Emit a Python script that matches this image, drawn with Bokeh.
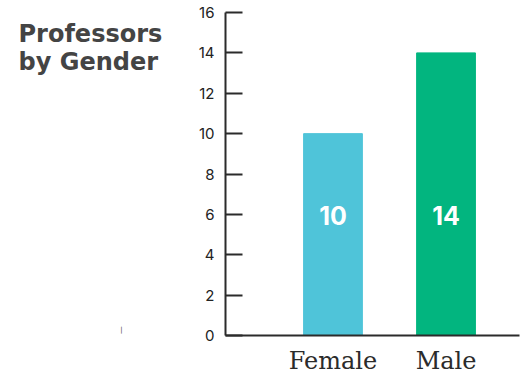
from bokeh.plotting import figure
from bokeh.layouts import row
from bokeh.models import Range1d, FixedTicker, ColumnDataSource
from bokeh.core.properties import value
from bokeh.embed import file_html
from bokeh.resources import INLINE

categories = ["Female", "Male"]
counts = [10, 14]
colors = ["#4fc4d9", "#02b57f"]
y_ticks = [0, 2, 4, 6, 8, 10, 12, 14, 16]
title_lines = ["Professors", "by Gender"]

# ---- left panel: title (its frame is aligned with the chart frame, 12..335 px) ----
LW = 190
t = figure(width=LW, height=377, output_backend="svg", toolbar_location=None,
           x_range=Range1d(0, LW), y_range=Range1d(335, 12),
           x_axis_location=None, y_axis_location=None,
           min_border=0)
t.grid.visible = False
t.outline_line_color = None
t.text(x=[18] * len(title_lines), y=[19 + 28 * i for i in range(len(title_lines))],
       text=title_lines, text_font=value("DejaVu Sans"), text_font_style="bold",
       text_font_size="24px", text_color="#444444", text_baseline="top")
t.text(x=[121], y=[325], text=["|"], text_font=value("DejaVu Sans"),
       text_font_size="7px", text_color="#444444", text_baseline="top",
       text_align="center")

# ---- main chart ----
xs = [i + 0.5 for i in range(len(categories))]
src = ColumnDataSource(dict(x=xs, top=counts, color=colors,
                            label=[str(c) for c in counts],
                            base=[0] * len(counts)))

p = figure(width=525 - LW, height=377, output_backend="svg", toolbar_location=None,
           x_range=Range1d(-0.451, 2.15), y_range=Range1d(0, 16),
           min_border_left=225 - LW, min_border_top=12, min_border_right=6,
           min_border_bottom=42)
p.outline_line_color = None
p.grid.visible = False
p.background_fill_color = "white"
p.border_fill_color = "white"

p.vbar(x="x", top="top", width=0.52, color="color", source=src)
p.text(x="x", y="base", text="label", source=src, text_color="white",
       text_font=value("Inter"), text_font_style="bold", text_font_size="25px",
       text_align="center", text_baseline="middle", y_offset=-120)

ax = p.yaxis[0]
ax.ticker = FixedTicker(ticks=y_ticks)
ax.axis_line_color = "#2b2b2b"
ax.axis_line_width = 2
ax.major_tick_line_color = "#2b2b2b"
ax.major_tick_line_width = 2
ax.major_tick_in = 17
ax.major_tick_out = 0
ax.minor_tick_line_color = None
ax.major_label_text_font = "Inter"
ax.major_label_text_font_size = "15px"
ax.major_label_text_color = "#222222"
ax.major_label_standoff = 11

bx = p.xaxis[0]
bx.ticker = FixedTicker(ticks=xs)
bx.major_label_overrides = {x: c for x, c in zip(xs, categories)}
bx.axis_line_color = "#2b2b2b"
bx.axis_line_width = 2
bx.major_tick_line_color = None
bx.major_tick_in = 0
bx.major_tick_out = 0
bx.minor_tick_line_color = None
bx.major_label_text_font = "DejaVu Serif"
bx.major_label_text_font_size = "24px"
bx.major_label_text_color = "#2b2b2b"
bx.major_label_standoff = 11

layout = row(t, p, spacing=0)
out = file_html(layout, INLINE)
open("out.html", "w").write(out)
